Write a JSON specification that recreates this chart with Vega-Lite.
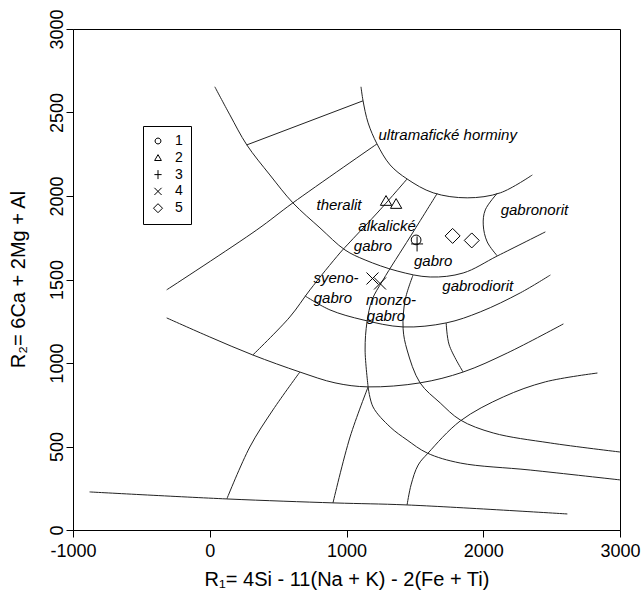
{
  "$schema": "https://vega.github.io/schema/vega-lite/v6.json",
  "width": 547,
  "height": 501,
  "autosize": {"type": "none"},
  "padding": {"left": 73, "top": 29, "right": 24, "bottom": 62},
  "background": "white",
  "config": {
    "font": "Liberation Sans",
    "view": {"stroke": "black", "strokeWidth": 1},
    "axis": {"domainColor": "black", "tickColor": "black", "labelColor": "black", "titleColor": "black", "titleFontWeight": "normal", "grid": false, "domainWidth": 1, "tickWidth": 1}
  },
  "datasets": {
    "lines": [
      {"id": "U", "i": 0, "x": 1106, "y": 2654}, {"id": "U", "i": 1, "x": 1121, "y": 2570}, {"id": "U", "i": 2, "x": 1158, "y": 2438}, {"id": "U", "i": 3, "x": 1223, "y": 2312}, {"id": "U", "i": 4, "x": 1319, "y": 2186}, {"id": "U", "i": 5, "x": 1443, "y": 2102}, {"id": "U", "i": 6, "x": 1634, "y": 2019}, {"id": "U", "i": 7, "x": 1883, "y": 1989}, {"id": "U", "i": 8, "x": 2125, "y": 2019}, {"id": "U", "i": 9, "x": 2359, "y": 2126},
      {"id": "A", "i": 0, "x": 37, "y": 2654}, {"id": "A", "i": 1, "x": 147, "y": 2486}, {"id": "A", "i": 2, "x": 271, "y": 2306}, {"id": "A", "i": 3, "x": 440, "y": 2126}, {"id": "A", "i": 4, "x": 608, "y": 1959}, {"id": "A", "i": 5, "x": 806, "y": 1809}, {"id": "A", "i": 6, "x": 989, "y": 1677}, {"id": "A", "i": 7, "x": 1136, "y": 1617}, {"id": "A", "i": 8, "x": 1370, "y": 1551}, {"id": "A", "i": 9, "x": 1612, "y": 1515}, {"id": "A", "i": 10, "x": 1853, "y": 1539}, {"id": "A", "i": 11, "x": 2103, "y": 1641}, {"id": "A", "i": 12, "x": 2454, "y": 1785},
      {"id": "D1", "i": 0, "x": -315, "y": 1438}, {"id": "D1", "i": 1, "x": 344, "y": 1797}, {"id": "D1", "i": 2, "x": 608, "y": 1959}, {"id": "D1", "i": 3, "x": 1223, "y": 2312},
      {"id": "S1", "i": 0, "x": 271, "y": 2306}, {"id": "S1", "i": 1, "x": 1121, "y": 2570},
      {"id": "D2", "i": 0, "x": 1443, "y": 2102}, {"id": "D2", "i": 1, "x": 1245, "y": 1917}, {"id": "D2", "i": 2, "x": 1026, "y": 1725}, {"id": "D2", "i": 3, "x": 952, "y": 1659}, {"id": "D2", "i": 4, "x": 733, "y": 1438}, {"id": "D2", "i": 5, "x": 586, "y": 1276}, {"id": "D2", "i": 6, "x": 315, "y": 1048},
      {"id": "D3", "i": 0, "x": 1663, "y": 2015}, {"id": "D3", "i": 1, "x": 1465, "y": 1755}, {"id": "D3", "i": 2, "x": 1267, "y": 1497}, {"id": "D3", "i": 3, "x": 1187, "y": 1378}, {"id": "D3", "i": 4, "x": 1150, "y": 1246}, {"id": "D3", "i": 5, "x": 1136, "y": 1078}, {"id": "D3", "i": 6, "x": 1158, "y": 857},
      {"id": "E2", "i": 0, "x": 1158, "y": 857}, {"id": "E2", "i": 1, "x": 1194, "y": 737}, {"id": "E2", "i": 2, "x": 1319, "y": 617}, {"id": "E2", "i": 3, "x": 1443, "y": 539}, {"id": "E2", "i": 4, "x": 1590, "y": 461}, {"id": "E2", "i": 5, "x": 1832, "y": 401}, {"id": "E2", "i": 6, "x": 2344, "y": 359}, {"id": "E2", "i": 7, "x": 3000, "y": 300},
      {"id": "M2", "i": 0, "x": 1158, "y": 857}, {"id": "M2", "i": 1, "x": 1026, "y": 557}, {"id": "M2", "i": 2, "x": 901, "y": 162},
      {"id": "D5", "i": 0, "x": 1487, "y": 1527}, {"id": "D5", "i": 1, "x": 1429, "y": 1378}, {"id": "D5", "i": 2, "x": 1414, "y": 1205}, {"id": "D5", "i": 3, "x": 1443, "y": 1078}, {"id": "D5", "i": 4, "x": 1538, "y": 881}, {"id": "D5", "i": 5, "x": 1685, "y": 761}, {"id": "D5", "i": 6, "x": 1832, "y": 659}, {"id": "D5", "i": 7, "x": 2073, "y": 581}, {"id": "D5", "i": 8, "x": 2491, "y": 521}, {"id": "D5", "i": 9, "x": 3000, "y": 467},
      {"id": "D6", "i": 0, "x": 1729, "y": 1240}, {"id": "D6", "i": 1, "x": 1751, "y": 1108}, {"id": "D6", "i": 2, "x": 1853, "y": 946},
      {"id": "G", "i": 0, "x": 2103, "y": 2017}, {"id": "G", "i": 1, "x": 2015, "y": 1917}, {"id": "G", "i": 2, "x": 2000, "y": 1827}, {"id": "G", "i": 3, "x": 2029, "y": 1725}, {"id": "G", "i": 4, "x": 2103, "y": 1641},
      {"id": "B", "i": 0, "x": 696, "y": 1402}, {"id": "B", "i": 1, "x": 879, "y": 1318}, {"id": "B", "i": 2, "x": 1121, "y": 1258}, {"id": "B", "i": 3, "x": 1414, "y": 1216}, {"id": "B", "i": 4, "x": 1729, "y": 1240}, {"id": "B", "i": 5, "x": 1978, "y": 1306}, {"id": "B", "i": 6, "x": 2271, "y": 1420}, {"id": "B", "i": 7, "x": 2491, "y": 1527},
      {"id": "C", "i": 0, "x": -315, "y": 1270}, {"id": "C", "i": 1, "x": 0, "y": 1156}, {"id": "C", "i": 2, "x": 315, "y": 1048}, {"id": "C", "i": 3, "x": 659, "y": 946}, {"id": "C", "i": 4, "x": 916, "y": 881}, {"id": "C", "i": 5, "x": 1158, "y": 857}, {"id": "C", "i": 6, "x": 1538, "y": 881}, {"id": "C", "i": 7, "x": 1853, "y": 946}, {"id": "C", "i": 8, "x": 2176, "y": 1060}, {"id": "C", "i": 9, "x": 2586, "y": 1234},
      {"id": "M1", "i": 0, "x": 659, "y": 946}, {"id": "M1", "i": 1, "x": 462, "y": 719}, {"id": "M1", "i": 2, "x": 293, "y": 497}, {"id": "M1", "i": 3, "x": 125, "y": 186},
      {"id": "F", "i": 0, "x": 1443, "y": 150}, {"id": "F", "i": 1, "x": 1472, "y": 270}, {"id": "F", "i": 2, "x": 1524, "y": 389}, {"id": "F", "i": 3, "x": 1597, "y": 461}, {"id": "F", "i": 4, "x": 1832, "y": 653}, {"id": "F", "i": 5, "x": 2147, "y": 797}, {"id": "F", "i": 6, "x": 2454, "y": 887}, {"id": "F", "i": 7, "x": 2835, "y": 940},
      {"id": "L", "i": 0, "x": -879, "y": 228}, {"id": "L", "i": 1, "x": 125, "y": 186}, {"id": "L", "i": 2, "x": 916, "y": 162}, {"id": "L", "i": 3, "x": 1443, "y": 150}, {"id": "L", "i": 4, "x": 2615, "y": 96}
    ],
    "labels": [
      {"t": "ultramafické horminy", "x": 1740, "y": 2366},
      {"t": "theralit", "x": 945, "y": 1947},
      {"t": "alkalické", "x": 1297, "y": 1818},
      {"t": "gabro", "x": 1194, "y": 1698},
      {"t": "gabro", "x": 1634, "y": 1611},
      {"t": "gabronorit", "x": 2374, "y": 1917},
      {"t": "gabrodiorit", "x": 1960, "y": 1462},
      {"t": "syeno-", "x": 923, "y": 1509},
      {"t": "gabro", "x": 901, "y": 1390},
      {"t": "monzo-", "x": 1326, "y": 1380},
      {"t": "gabro", "x": 1289, "y": 1280}
    ],
    "pts": [
      {"s": "1", "x": 1509, "y": 1737},
      {"s": "2", "x": 1289, "y": 1971},
      {"s": "2", "x": 1363, "y": 1953},
      {"s": "3", "x": 1516, "y": 1713},
      {"s": "4", "x": 1190, "y": 1506},
      {"s": "4", "x": 1245, "y": 1476},
      {"s": "5", "x": 1776, "y": 1761},
      {"s": "5", "x": 1916, "y": 1734}
    ]
  },
  "encoding": {
    "x": {
      "field": "x", "type": "quantitative",
      "scale": {"domain": [-1000, 3000], "nice": false, "zero": false},
      "axis": {
        "values": [-1000, 0, 1000, 2000, 3000],
        "title": "R₁= 4Si - 11(Na + K) - 2(Fe + Ti)",
        "labelExpr": "'' + datum.value",
        "labelFontSize": 18,
        "labelPadding": 5,
        "tickSize": 7,
        "labelFlush": false,
        "labelOverlap": false,
        "titleFontSize": 20,
        "titleY": 49,
        "titleBaseline": "middle"
      }
    },
    "y": {
      "field": "y", "type": "quantitative",
      "scale": {"domain": [0, 3000], "nice": false, "zero": false},
      "axis": {
        "values": [0, 500, 1000, 1500, 2000, 2500, 3000],
        "title": "R₂= 6Ca + 2Mg + Al",
        "labelExpr": "'' + datum.value",
        "labelFontSize": 18,
        "labelAngle": -90,
        "labelAlign": "center",
        "labelBaseline": "alphabetic",
        "labelPadding": 4,
        "tickSize": 7,
        "labelFlush": false,
        "labelOverlap": false,
        "titleFontSize": 20,
        "titleAngle": -90,
        "titleAlign": "center",
        "titleBaseline": "middle",
        "titleX": -55,
        "titleY": 250
      }
    }
  },
  "layer": [
    {
      "data": {"name": "lines"},
      "mark": {"type": "line", "interpolate": "catmull-rom", "color": "#222222", "strokeWidth": 1},
      "encoding": {
        "detail": {"field": "id", "type": "nominal"},
        "order": {"field": "i", "type": "quantitative"}
      }
    },
    {
      "data": {"name": "labels"},
      "mark": {"type": "text", "fontStyle": "italic", "fontSize": 15, "font": "Liberation Sans", "color": "black", "baseline": "middle", "align": "center"},
      "encoding": {"text": {"field": "t", "type": "nominal"}}
    },
    {
      "data": {"name": "pts"},
      "mark": {"type": "point", "filled": false, "color": "black", "size": 225, "strokeWidth": 1, "opacity": 1},
      "encoding": {
        "shape": {
          "field": "s", "type": "nominal",
          "scale": {
            "domain": ["1", "2", "3", "4", "5"],
            "range": [
              "M-0.65,0A0.65,0.65,0,1,0,0.65,0A0.65,0.65,0,1,0,-0.65,0Z",
              "M-0.75,0.6L0,-0.7L0.75,0.6Z",
              "M-0.8,0L0.8,0M0,-1L0,1",
              "M-0.8,-0.8L0.8,0.8M-0.8,0.8L0.8,-0.8",
              "M-1,0L0,-1L1,0L0,1Z"
            ]
          },
          "legend": {
            "title": null,
            "orient": "none",
            "legendX": 70,
            "legendY": 97,
            "strokeColor": "black",
            "padding": 8,
            "symbolSize": 81,
            "symbolStrokeColor": "black",
            "symbolStrokeWidth": 1,
            "symbolFillColor": "transparent",
            "labelFontSize": 14,
            "labelFont": "Liberation Sans",
            "labelColor": "black",
            "labelOffset": 10,
            "rowPadding": 2.8
          }
        }
      }
    }
  ]
}
